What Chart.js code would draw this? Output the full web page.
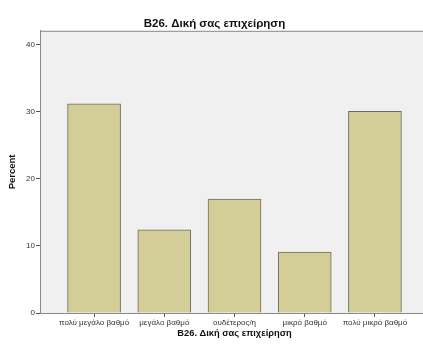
<!DOCTYPE html>
<html>
<head>
<meta charset="utf-8">
<script src="https://cdn.jsdelivr.net/npm/chart.js@4/dist/chart.umd.min.js"></script>
<style>
  html, body { margin: 0; padding: 0; background: #fff; overflow: hidden; width: 423px; height: 344px; }
  #wrap { width: 423px; height: 344px; overflow: hidden; position: relative; }
  #b26 { position: absolute; left: 0; top: 0; }
</style>
</head>
<body>
<div id="wrap"><canvas id="b26" width="434" height="344"></canvas></div>
<script>
// categories and percent values
var categories = ['πολύ μεγάλο βαθμό', 'μεγάλο βαθμό', 'ουδέτερος/η', 'μικρό βαθμό', 'πολύ μικρό βαθμό'];
var percents = [31.2, 12.4, 17.0, 9.1, 30.1];
var yTicks = [0, 10, 20, 30, 40];
var titleText = 'B26. Δική σας επιχείρηση';

// grey plot background + frame, like the SPSS output
const plotFrame = {
  id: 'plotFrame',
  beforeDraw(chart) {
    const { ctx, chartArea: { left, top, right, bottom } } = chart;
    ctx.save();
    ctx.fillStyle = '#f0f0f0';
    ctx.fillRect(left, top, right - left, bottom - top);
    ctx.restore();
  },
  afterDraw(chart) {
    const { ctx, chartArea: { left, top, right, bottom } } = chart;
    ctx.save();
    ctx.strokeStyle = '#8a8a8a';
    ctx.lineWidth = 1;
    ctx.strokeRect(left + 0.5, top + 0.5, right - left, bottom - top);
    ctx.restore();
  }
};

Chart.defaults.font.family = "'Liberation Sans', Arial, sans-serif";
Chart.defaults.color = '#333';

new Chart('b26', {
  type: 'bar',
  data: {
    datasets: [{
      label: 'Percent',
      data: percents.map(function(v, i) { return { x: i, y: v }; }),
      backgroundColor: '#d3ce97',
      borderColor: '#6c6b5c',
      borderWidth: 1,
      borderSkipped: 'bottom',
      barThickness: 53
    }]
  },
  options: {
    responsive: false,
    animation: false,
    layout: { padding: { left: 0, right: 5, top: 0, bottom: 0 } },
    plugins: {
      legend: { display: false },
      tooltip: { enabled: false },
      title: {
        display: true,
        text: titleText,
        color: '#111',
        font: { size: 11.5, weight: 'bold' },
        padding: { top: 17, bottom: 0 }
      }
    },
    scales: {
      x: {
        type: 'linear',
        offset: false,
        min: -0.77,
        max: 4.77,
        afterBuildTicks: function(scale) {
          scale.ticks = categories.map(function(c, i) { return { value: i }; });
        },
        afterFit: function(scale) { scale.height = 31; },
        ticks: {
          callback: function(v) { return categories[v]; },
          font: { size: 8 },
          color: '#333',
          padding: 1,
          maxRotation: 0,
          autoSkip: false
        },
        grid: { offset: false, drawOnChartArea: false, tickLength: 4, color: '#555' },
        border: { color: '#8a8a8a' },
        title: {
          display: true,
          text: titleText,
          color: '#111',
          font: { size: 9.3, weight: 'bold' },
          padding: { top: 0, bottom: 5 }
        }
      },
      y: {
        min: 0,
        max: 42.1,
        afterBuildTicks: function(scale) {
          scale.ticks = yTicks.map(function(v) { return { value: v }; });
        },
        afterFit: function(scale) { scale.width = 40; },
        ticks: { font: { size: 8 }, color: '#333', padding: 1 },
        grid: { drawOnChartArea: false, tickLength: 4, color: '#555' },
        border: { color: '#8a8a8a' },
        title: {
          display: true,
          text: 'Percent',
          color: '#111',
          font: { size: 9.5, weight: 'bold' },
          padding: { top: 7, bottom: 0 }
        }
      }
    }
  },
  plugins: [plotFrame]
});
</script>
</body>
</html>
